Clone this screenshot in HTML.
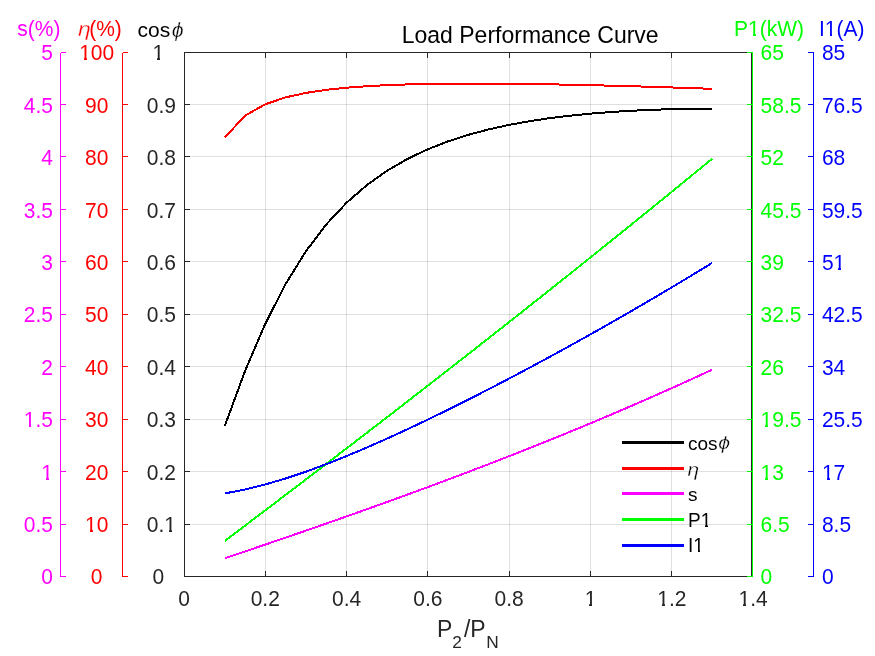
<!DOCTYPE html><html><head><meta charset="utf-8"><title>Load Performance Curve</title>
<style>html,body{margin:0;padding:0;background:#fff;}svg{display:block;will-change:transform;}text{font-family:"Liberation Sans", Arial, sans-serif;}</style></head><body>
<svg width="875" height="656" viewBox="0 0 875 656">
<rect x="0" y="0" width="875" height="656" fill="#fff"/>
<path d="M265.5,53.0 V576.0 M346.5,53.0 V576.0 M427.5,53.0 V576.0 M509.5,53.0 V576.0 M590.5,53.0 V576.0 M671.5,53.0 V576.0" stroke="#262626" stroke-opacity="0.15" stroke-width="1" fill="none" shape-rendering="crispEdges"/>
<path d="M185.0,524.5 H751.0 M185.0,471.5 H751.0 M185.0,419.5 H751.0 M185.0,366.5 H751.0 M185.0,314.5 H751.0 M185.0,261.5 H751.0 M185.0,209.5 H751.0 M185.0,156.5 H751.0 M185.0,104.5 H751.0" stroke="#262626" stroke-opacity="0.15" stroke-width="1" fill="none" shape-rendering="crispEdges"/>
<path d="M224.90,425.67 L245.20,370.64 L265.50,323.32 L285.80,283.66 L306.10,250.98 L326.40,224.29 L346.70,202.59 L367.00,184.95 L387.30,170.58 L407.60,158.84 L427.90,149.22 L448.20,141.30 L468.50,134.77 L488.80,129.36 L509.10,124.90 L529.40,121.21 L549.70,118.16 L570.00,115.67 L590.30,113.65 L610.60,112.04 L630.90,110.78 L651.20,109.82 L671.50,109.15 L691.80,108.71 L712.10,108.51" stroke="#000000" stroke-width="2" fill="none" stroke-linejoin="round" shape-rendering="crispEdges"/>
<path d="M224.90,137.26 L245.20,115.56 L265.50,104.18 L285.80,97.33 L306.10,92.87 L326.40,89.83 L346.70,87.70 L367.00,86.20 L387.30,85.15 L407.60,84.43 L427.90,83.97 L448.20,83.70 L468.50,83.60 L488.80,83.63 L509.10,83.77 L529.40,84.01 L549.70,84.32 L570.00,84.71 L590.30,85.16 L610.60,85.66 L630.90,86.21 L651.20,86.80 L671.50,87.44 L691.80,88.11 L712.10,88.81" stroke="#ff0000" stroke-width="2" fill="none" stroke-linejoin="round" shape-rendering="crispEdges"/>
<path d="M224.90,558.24 L245.20,551.39 L265.50,544.50 L285.80,537.56 L306.10,530.56 L326.40,523.50 L346.70,516.38 L367.00,509.18 L387.30,501.90 L407.60,494.53 L427.90,487.07 L448.20,479.52 L468.50,471.86 L488.80,464.09 L509.10,456.20 L529.40,448.20 L549.70,440.06 L570.00,431.80 L590.30,423.39 L610.60,414.84 L630.90,406.14 L651.20,397.28 L671.50,388.25 L691.80,379.06 L712.10,369.69" stroke="#ff00ff" stroke-width="2" fill="none" stroke-linejoin="round" shape-rendering="crispEdges"/>
<path d="M224.90,540.82 L245.20,525.51 L265.50,510.15 L285.80,494.74 L306.10,479.30 L326.40,463.81 L346.70,448.27 L367.00,432.68 L387.30,417.04 L407.60,401.35 L427.90,385.61 L448.20,369.81 L468.50,353.96 L488.80,338.05 L509.10,322.08 L529.40,306.05 L549.70,289.96 L570.00,273.80 L590.30,257.58 L610.60,241.29 L630.90,224.93 L651.20,208.51 L671.50,192.01 L691.80,175.44 L712.10,158.79" stroke="#00ff00" stroke-width="2" fill="none" stroke-linejoin="round" shape-rendering="crispEdges"/>
<path d="M224.90,493.41 L245.20,489.48 L265.50,484.43 L285.80,478.43 L306.10,471.60 L326.40,464.10 L346.70,456.02 L367.00,447.47 L387.30,438.50 L407.60,429.18 L427.90,419.56 L448.20,409.66 L468.50,399.52 L488.80,389.16 L509.10,378.59 L529.40,367.83 L549.70,356.88 L570.00,345.75 L590.30,334.45 L610.60,322.97 L630.90,311.32 L651.20,299.49 L671.50,287.50 L691.80,275.32 L712.10,262.96" stroke="#0000ff" stroke-width="2" fill="none" stroke-linejoin="round" shape-rendering="crispEdges"/>
<path d="M184.5,52.5 H751.5 V576.5 H184.5 Z M184.5,576.5 V571 M184.5,52.5 V58 M265.5,576.5 V571 M265.5,52.5 V58 M346.5,576.5 V571 M346.5,52.5 V58 M427.5,576.5 V571 M427.5,52.5 V58 M509.5,576.5 V571 M509.5,52.5 V58 M590.5,576.5 V571 M590.5,52.5 V58 M671.5,576.5 V571 M671.5,52.5 V58 M751.5,576.5 V571 M751.5,52.5 V58 M184.5,576.5 H190 M751.5,576.5 H747 M184.5,524.5 H190 M751.5,524.5 H747 M184.5,471.5 H190 M751.5,471.5 H747 M184.5,419.5 H190 M751.5,419.5 H747 M184.5,366.5 H190 M751.5,366.5 H747 M184.5,314.5 H190 M751.5,314.5 H747 M184.5,261.5 H190 M751.5,261.5 H747 M184.5,209.5 H190 M751.5,209.5 H747 M184.5,156.5 H190 M751.5,156.5 H747 M184.5,104.5 H190 M751.5,104.5 H747 M184.5,52.5 H190 M751.5,52.5 H747" stroke="#262626" stroke-width="1" fill="none" shape-rendering="crispEdges"/>
<path d="M60.5,52.5 V576.5 M60.5,576.5 H66.0 M60.5,524.5 H66.0 M60.5,471.5 H66.0 M60.5,419.5 H66.0 M60.5,366.5 H66.0 M60.5,314.5 H66.0 M60.5,261.5 H66.0 M60.5,209.5 H66.0 M60.5,156.5 H66.0 M60.5,104.5 H66.0 M60.5,52.5 H66.0" stroke="#ff00ff" stroke-width="1" fill="none" shape-rendering="crispEdges"/>
<path d="M122.5,52.5 V576.5 M122.5,576.5 H128.0 M122.5,524.5 H128.0 M122.5,471.5 H128.0 M122.5,419.5 H128.0 M122.5,366.5 H128.0 M122.5,314.5 H128.0 M122.5,261.5 H128.0 M122.5,209.5 H128.0 M122.5,156.5 H128.0 M122.5,104.5 H128.0 M122.5,52.5 H128.0" stroke="#ff0000" stroke-width="1" fill="none" shape-rendering="crispEdges"/>
<path d="M752.5,52.5 V576.5 M752.5,576.5 H747.0 M752.5,524.5 H747.0 M752.5,471.5 H747.0 M752.5,419.5 H747.0 M752.5,366.5 H747.0 M752.5,314.5 H747.0 M752.5,261.5 H747.0 M752.5,209.5 H747.0 M752.5,156.5 H747.0 M752.5,104.5 H747.0 M752.5,52.5 H747.0" stroke="#00ff00" stroke-width="1" fill="none" shape-rendering="crispEdges"/>
<path d="M813.5,52.5 V576.5 M813.5,576.5 H808.0 M813.5,524.5 H808.0 M813.5,471.5 H808.0 M813.5,419.5 H808.0 M813.5,366.5 H808.0 M813.5,314.5 H808.0 M813.5,261.5 H808.0 M813.5,209.5 H808.0 M813.5,156.5 H808.0 M813.5,104.5 H808.0 M813.5,52.5 H808.0" stroke="#0000ff" stroke-width="1" fill="none" shape-rendering="crispEdges"/>
<text x="164.23" y="584.10" font-size="21.00" fill="#262626" text-anchor="end" transform="matrix(1.0000 0 0 1.0400 0.000 -23.364)">0</text><text x="102.53" y="584.10" font-size="21.00" fill="#ff0000" text-anchor="end" transform="matrix(1.0000 0 0 1.0400 0.000 -23.364)">0</text><text x="53.00" y="584.10" font-size="21.00" fill="#ff00ff" text-anchor="end" transform="matrix(1.0000 0 0 1.0400 0.000 -23.364)">0</text><text x="760.60" y="584.10" font-size="21.00" fill="#00ff00" transform="matrix(1.0000 0 0 1.0400 0.000 -23.364)">0</text><text x="821.90" y="584.10" font-size="21.00" fill="#0000ff" transform="matrix(1.0000 0 0 1.0400 0.000 -23.364)">0</text><text x="175.90" y="532.10" font-size="21.00" fill="#262626" text-anchor="end" transform="matrix(1.0000 0 0 1.0400 0.000 -21.284)">0.1</text><text x="108.37" y="532.10" font-size="21.00" fill="#ff0000" text-anchor="end" transform="matrix(1.0000 0 0 1.0400 0.000 -21.284)">10</text><text x="53.00" y="532.10" font-size="21.00" fill="#ff00ff" text-anchor="end" transform="matrix(1.0000 0 0 1.0400 0.000 -21.284)">0.5</text><text x="760.60" y="532.10" font-size="21.00" fill="#00ff00" transform="matrix(1.0000 0 0 1.0400 0.000 -21.284)">6.5</text><text x="821.90" y="532.10" font-size="21.00" fill="#0000ff" transform="matrix(1.0000 0 0 1.0400 0.000 -21.284)">8.5</text><text x="175.90" y="480.10" font-size="21.00" fill="#262626" text-anchor="end" transform="matrix(1.0000 0 0 1.0400 0.000 -19.204)">0.2</text><text x="108.37" y="480.10" font-size="21.00" fill="#ff0000" text-anchor="end" transform="matrix(1.0000 0 0 1.0400 0.000 -19.204)">20</text><text x="53.00" y="480.10" font-size="21.00" fill="#ff00ff" text-anchor="end" transform="matrix(1.0000 0 0 1.0400 0.000 -19.204)">1</text><text x="760.60" y="480.10" font-size="21.00" fill="#00ff00" transform="matrix(1.0000 0 0 1.0400 0.000 -19.204)">13</text><text x="821.90" y="480.10" font-size="21.00" fill="#0000ff" transform="matrix(1.0000 0 0 1.0400 0.000 -19.204)">17</text><text x="175.90" y="427.10" font-size="21.00" fill="#262626" text-anchor="end" transform="matrix(1.0000 0 0 1.0400 0.000 -17.084)">0.3</text><text x="108.37" y="427.10" font-size="21.00" fill="#ff0000" text-anchor="end" transform="matrix(1.0000 0 0 1.0400 0.000 -17.084)">30</text><text x="53.00" y="427.10" font-size="21.00" fill="#ff00ff" text-anchor="end" transform="matrix(1.0000 0 0 1.0400 0.000 -17.084)">1.5</text><text x="760.60" y="427.10" font-size="21.00" fill="#00ff00" transform="matrix(1.0000 0 0 1.0400 0.000 -17.084)">19.5</text><text x="821.90" y="427.10" font-size="21.00" fill="#0000ff" transform="matrix(1.0000 0 0 1.0400 0.000 -17.084)">25.5</text><text x="175.90" y="375.10" font-size="21.00" fill="#262626" text-anchor="end" transform="matrix(1.0000 0 0 1.0400 0.000 -15.004)">0.4</text><text x="108.37" y="375.10" font-size="21.00" fill="#ff0000" text-anchor="end" transform="matrix(1.0000 0 0 1.0400 0.000 -15.004)">40</text><text x="53.00" y="375.10" font-size="21.00" fill="#ff00ff" text-anchor="end" transform="matrix(1.0000 0 0 1.0400 0.000 -15.004)">2</text><text x="760.60" y="375.10" font-size="21.00" fill="#00ff00" transform="matrix(1.0000 0 0 1.0400 0.000 -15.004)">26</text><text x="821.90" y="375.10" font-size="21.00" fill="#0000ff" transform="matrix(1.0000 0 0 1.0400 0.000 -15.004)">34</text><text x="175.90" y="322.10" font-size="21.00" fill="#262626" text-anchor="end" transform="matrix(1.0000 0 0 1.0400 0.000 -12.884)">0.5</text><text x="108.37" y="322.10" font-size="21.00" fill="#ff0000" text-anchor="end" transform="matrix(1.0000 0 0 1.0400 0.000 -12.884)">50</text><text x="53.00" y="322.10" font-size="21.00" fill="#ff00ff" text-anchor="end" transform="matrix(1.0000 0 0 1.0400 0.000 -12.884)">2.5</text><text x="760.60" y="322.10" font-size="21.00" fill="#00ff00" transform="matrix(1.0000 0 0 1.0400 0.000 -12.884)">32.5</text><text x="821.90" y="322.10" font-size="21.00" fill="#0000ff" transform="matrix(1.0000 0 0 1.0400 0.000 -12.884)">42.5</text><text x="175.90" y="270.10" font-size="21.00" fill="#262626" text-anchor="end" transform="matrix(1.0000 0 0 1.0400 0.000 -10.804)">0.6</text><text x="108.37" y="270.10" font-size="21.00" fill="#ff0000" text-anchor="end" transform="matrix(1.0000 0 0 1.0400 0.000 -10.804)">60</text><text x="53.00" y="270.10" font-size="21.00" fill="#ff00ff" text-anchor="end" transform="matrix(1.0000 0 0 1.0400 0.000 -10.804)">3</text><text x="760.60" y="270.10" font-size="21.00" fill="#00ff00" transform="matrix(1.0000 0 0 1.0400 0.000 -10.804)">39</text><text x="821.90" y="270.10" font-size="21.00" fill="#0000ff" transform="matrix(1.0000 0 0 1.0400 0.000 -10.804)">51</text><text x="175.90" y="218.10" font-size="21.00" fill="#262626" text-anchor="end" transform="matrix(1.0000 0 0 1.0400 0.000 -8.724)">0.7</text><text x="108.37" y="218.10" font-size="21.00" fill="#ff0000" text-anchor="end" transform="matrix(1.0000 0 0 1.0400 0.000 -8.724)">70</text><text x="53.00" y="218.10" font-size="21.00" fill="#ff00ff" text-anchor="end" transform="matrix(1.0000 0 0 1.0400 0.000 -8.724)">3.5</text><text x="760.60" y="218.10" font-size="21.00" fill="#00ff00" transform="matrix(1.0000 0 0 1.0400 0.000 -8.724)">45.5</text><text x="821.90" y="218.10" font-size="21.00" fill="#0000ff" transform="matrix(1.0000 0 0 1.0400 0.000 -8.724)">59.5</text><text x="175.90" y="165.10" font-size="21.00" fill="#262626" text-anchor="end" transform="matrix(1.0000 0 0 1.0400 0.000 -6.604)">0.8</text><text x="108.37" y="165.10" font-size="21.00" fill="#ff0000" text-anchor="end" transform="matrix(1.0000 0 0 1.0400 0.000 -6.604)">80</text><text x="53.00" y="165.10" font-size="21.00" fill="#ff00ff" text-anchor="end" transform="matrix(1.0000 0 0 1.0400 0.000 -6.604)">4</text><text x="760.60" y="165.10" font-size="21.00" fill="#00ff00" transform="matrix(1.0000 0 0 1.0400 0.000 -6.604)">52</text><text x="821.90" y="165.10" font-size="21.00" fill="#0000ff" transform="matrix(1.0000 0 0 1.0400 0.000 -6.604)">68</text><text x="175.90" y="113.10" font-size="21.00" fill="#262626" text-anchor="end" transform="matrix(1.0000 0 0 1.0400 0.000 -4.524)">0.9</text><text x="108.37" y="113.10" font-size="21.00" fill="#ff0000" text-anchor="end" transform="matrix(1.0000 0 0 1.0400 0.000 -4.524)">90</text><text x="53.00" y="113.10" font-size="21.00" fill="#ff00ff" text-anchor="end" transform="matrix(1.0000 0 0 1.0400 0.000 -4.524)">4.5</text><text x="760.60" y="113.10" font-size="21.00" fill="#00ff00" transform="matrix(1.0000 0 0 1.0400 0.000 -4.524)">58.5</text><text x="821.90" y="113.10" font-size="21.00" fill="#0000ff" transform="matrix(1.0000 0 0 1.0400 0.000 -4.524)">76.5</text><text x="164.23" y="60.10" font-size="21.00" fill="#262626" text-anchor="end" transform="matrix(1.0000 0 0 1.0400 0.000 -2.404)">1</text><text x="114.20" y="60.10" font-size="21.00" fill="#ff0000" text-anchor="end" transform="matrix(1.0000 0 0 1.0400 0.000 -2.404)">100</text><text x="53.00" y="60.10" font-size="21.00" fill="#ff00ff" text-anchor="end" transform="matrix(1.0000 0 0 1.0400 0.000 -2.404)">5</text><text x="760.60" y="60.10" font-size="21.00" fill="#00ff00" transform="matrix(1.0000 0 0 1.0400 0.000 -2.404)">65</text><text x="821.90" y="60.10" font-size="21.00" fill="#0000ff" transform="matrix(1.0000 0 0 1.0400 0.000 -2.404)">85</text><text x="184.00" y="606.00" font-size="21.00" fill="#262626" text-anchor="middle" transform="matrix(1.0000 0 0 1.0400 0.000 -24.240)">0</text><text x="265.30" y="606.00" font-size="21.00" fill="#262626" text-anchor="middle" transform="matrix(1.0000 0 0 1.0400 0.000 -24.240)">0.2</text><text x="346.60" y="606.00" font-size="21.00" fill="#262626" text-anchor="middle" transform="matrix(1.0000 0 0 1.0400 0.000 -24.240)">0.4</text><text x="427.90" y="606.00" font-size="21.00" fill="#262626" text-anchor="middle" transform="matrix(1.0000 0 0 1.0400 0.000 -24.240)">0.6</text><text x="509.20" y="606.00" font-size="21.00" fill="#262626" text-anchor="middle" transform="matrix(1.0000 0 0 1.0400 0.000 -24.240)">0.8</text><text x="590.50" y="606.00" font-size="21.00" fill="#262626" text-anchor="middle" transform="matrix(1.0000 0 0 1.0400 0.000 -24.240)">1</text><text x="671.80" y="606.00" font-size="21.00" fill="#262626" text-anchor="middle" transform="matrix(1.0000 0 0 1.0400 0.000 -24.240)">1.2</text><text x="753.10" y="606.00" font-size="21.00" fill="#262626" text-anchor="middle" transform="matrix(1.0000 0 0 1.0400 0.000 -24.240)">1.4</text>
<text x="60.50" y="36.00" font-size="21.00" fill="#ff00ff" text-anchor="end" transform="matrix(1.0000 0 0 1.0100 0.000 -0.360)">s(%)</text>
<text x="78.00" y="36.00" font-size="21.00" fill="#ff0000" font-family="'Liberation Serif', 'DejaVu Serif', serif" font-style="italic" stroke="#fff" stroke-width="0.3" transform="matrix(1.1000 0 0 1.0000 -7.800 0.000)">&#951;</text>
<text x="121.80" y="36.00" font-size="21.00" fill="#ff0000" text-anchor="end" transform="matrix(1.0000 0 0 1.0200 0.000 -0.720)">(%)</text>
<text x="170.30" y="36.90" font-size="21.00" fill="#000" text-anchor="end">cos</text>
<text x="171.70" y="37.50" font-size="20.37" fill="#000" font-family="'Liberation Serif', 'DejaVu Serif', serif" font-style="italic" stroke="#fff" stroke-width="0.3" transform="matrix(1.0500 0 0 1.0000 -8.585 0.000)">&#981;</text>
<text x="734.00" y="36.00" font-size="21.00" fill="#00ff00" transform="matrix(1.0000 0 0 1.0200 0.000 -0.720)">P1(kW)</text>
<text x="819.00" y="36.00" font-size="21.00" fill="#0000ff" transform="matrix(1.0000 0 0 1.0200 0.000 -0.720)">I1(A)</text>
<text x="530.20" y="43.00" font-size="23.00" fill="#000" text-anchor="middle" transform="matrix(1.0000 0 0 1.0100 0.000 -0.430)">Load Performance Curve</text>
<text x="437" y="637" font-size="23.0" fill="#262626">P<tspan font-size="17.3" dy="11">2</tspan><tspan dx="2.0" dy="-11">/P</tspan><tspan font-size="17.3" dx="0.6" dy="11">N</tspan></text>
<path d="M622,442.5 H684" stroke="#000000" stroke-width="3" shape-rendering="crispEdges"/>
<path d="M622,468.5 H684" stroke="#ff0000" stroke-width="3" shape-rendering="crispEdges"/>
<path d="M622,493.5 H684" stroke="#ff00ff" stroke-width="3" shape-rendering="crispEdges"/>
<path d="M622,519.5 H684" stroke="#00ff00" stroke-width="3" shape-rendering="crispEdges"/>
<path d="M622,545.5 H684" stroke="#0000ff" stroke-width="3" shape-rendering="crispEdges"/>
<text x="688.00" y="449.80" font-size="19.00" fill="#000">cos</text>
<text x="718.30" y="449.30" font-size="18.43" fill="#000" font-family="'Liberation Serif', 'DejaVu Serif', serif" font-style="italic" stroke="#fff" stroke-width="0.3" transform="matrix(1.1500 0 0 1.0000 -107.745 0.000)">&#981;</text>
<text x="687.60" y="475.70" font-size="19.00" fill="#000" font-family="'Liberation Serif', 'DejaVu Serif', serif" font-style="italic" stroke="#fff" stroke-width="0.3" transform="matrix(1.1000 0 0 1.0000 -68.760 0.000)">&#951;</text>
<text x="688.00" y="500.70" font-size="19.00" fill="#000">s</text>
<text x="688.00" y="526.60" font-size="19.00" fill="#000" transform="matrix(1.0000 0 0 1.0200 0.000 -10.532)">P1</text>
<text x="688.00" y="551.80" font-size="19.00" fill="#000" transform="matrix(1.0000 0 0 1.0200 0.000 -11.036)">I1</text>
<g fill="#fff" shape-rendering="crispEdges"><rect x="165" y="530" width="4" height="3"/><rect x="172" y="530" width="3" height="3"/><rect x="86" y="530" width="4" height="3"/><rect x="93" y="530" width="3" height="3"/><rect x="42" y="478" width="4" height="3"/><rect x="49" y="478" width="4" height="3"/><rect x="762" y="478" width="3" height="3"/><rect x="768" y="478" width="4" height="3"/><rect x="823" y="478" width="4" height="3"/><rect x="830" y="478" width="3" height="3"/><rect x="25" y="425" width="4" height="3"/><rect x="31" y="425" width="4" height="3"/><rect x="762" y="425" width="3" height="3"/><rect x="768" y="425" width="4" height="3"/><rect x="835" y="268" width="3" height="3"/><rect x="841" y="268" width="4" height="3"/><rect x="154" y="58" width="3" height="3"/><rect x="160" y="58" width="4" height="3"/><rect x="80" y="58" width="4" height="3"/><rect x="87" y="58" width="3" height="3"/><rect x="586" y="604" width="3" height="3"/><rect x="592" y="604" width="4" height="3"/><rect x="658" y="604" width="4" height="3"/><rect x="665" y="604" width="3" height="3"/><rect x="740" y="604" width="3" height="3"/><rect x="746" y="604" width="4" height="3"/><rect x="749" y="34" width="4" height="3"/><rect x="756" y="34" width="3" height="3"/><rect x="826" y="34" width="4" height="3"/><rect x="832" y="34" width="4" height="3"/><rect x="702" y="525" width="3" height="2"/><rect x="708" y="525" width="3" height="2"/><rect x="694" y="550" width="4" height="3"/><rect x="700" y="550" width="3" height="3"/></g></svg></body></html>
